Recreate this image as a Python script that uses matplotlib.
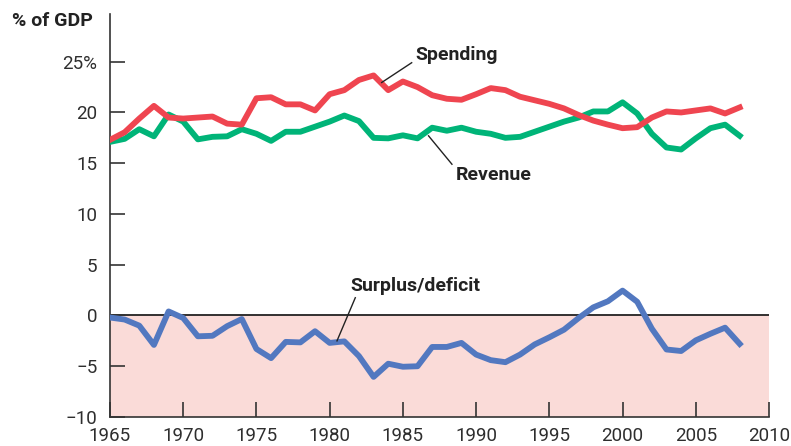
import numpy as np
import matplotlib.pyplot as plt

# Data (% of GDP)
years = list(range(1965, 2009))
spending = [17.3, 18.05, 19.4, 20.65, 19.5, 19.4, 19.5, 19.6, 18.9, 18.8,
            21.4, 21.5, 20.8, 20.8, 20.2, 21.8, 22.2, 23.2, 23.65, 22.2,
            23.05, 22.5, 21.7, 21.35, 21.25, 21.8, 22.4, 22.2, 21.55, 21.2,
            20.85, 20.4, 19.75, 19.2, 18.8, 18.45, 18.55, 19.5, 20.1, 20.0,
            20.2, 20.4, 19.9, 20.5]
revenue = [17.1, 17.4, 18.35, 17.65, 19.8, 19.1, 17.35, 17.6, 17.65, 18.35,
           17.9, 17.2, 18.1, 18.1, 18.6, 19.1, 19.7, 19.15, 17.5, 17.45,
           17.75, 17.45, 18.5, 18.2, 18.5, 18.1, 17.9, 17.5, 17.6, 18.1,
           18.6, 19.1, 19.5, 20.1, 20.1, 21.0, 19.9, 17.9, 16.55, 16.35,
           17.45, 18.45, 18.8, 17.7]
balance = [-0.2, -0.4, -1.0, -2.9, 0.4, -0.25, -2.05, -2.0, -1.05, -0.35,
           -3.3, -4.2, -2.6, -2.65, -1.55, -2.7, -2.55, -4.0, -6.05, -4.75,
           -5.05, -5.0, -3.1, -3.1, -2.7, -3.85, -4.4, -4.6, -3.85, -2.85,
           -2.15, -1.4, -0.25, 0.8, 1.4, 2.45, 1.35, -1.3, -3.35, -3.5,
           -2.45, -1.8, -1.2, -2.8]

yticks = [-10, -5, 0, 5, 10, 15, 20, 25]
ytick_labels = ["\u221210", "\u22125", "0", "5", "10", "15", "20", "25%"]
xticks = list(range(1965, 2011, 5))

plt.rcParams['font.family'] = ['Roboto', 'DejaVu Sans']

fig = plt.figure(figsize=(7.91, 4.46), dpi=100)
ax = fig.add_axes([110 / 791, 29 / 446, 659 / 791, 403 / 446])

ax.axhspan(-10, 0, color="#fadbd8", zorder=0)
ax.axhline(0, color="#222222", lw=1.3, zorder=1)

ax.plot(years, revenue, color="#00b478", lw=4.2, zorder=3)
ax.plot(years, spending, color="#ef4550", lw=4.2, zorder=3)
ax.plot(years, balance, color="#5278c0", lw=4.2, zorder=3)

ax.set_xlim(1965, 2010)
ax.set_ylim(-10, 29.7)
for s in ["top", "right"]:
    ax.spines[s].set_visible(False)
for s in ["left", "bottom"]:
    ax.spines[s].set_color("#333333")
    ax.spines[s].set_linewidth(1.2)

ax.set_yticks(yticks)
ax.set_yticklabels(ytick_labels)
ax.set_xticks(xticks)
ax.tick_params(direction="in", length=11, width=1.2, color="#333333",
               labelsize=13.5, labelcolor="#2e2e2e")
ax.tick_params(axis="y", pad=9)
ax.tick_params(axis="x", pad=7)

fig.text(12 / 791, 1 - 21 / 446, "% of GDP", ha="left", va="center",
         fontsize=14, fontweight="bold", color="#222222")

# labels with leader lines
lab = dict(fontsize=14, fontweight="bold", color="#222222", ha="left", va="center")
ax.text(1985.85, 25.7, "Spending", **lab)
ax.plot([1983.55, 1985.6], [22.95, 24.9], color="#222222", lw=1.0, zorder=4)
ax.text(1988.6, 13.8, "Revenue", **lab)
ax.plot([1986.75, 1988.35], [17.7, 14.9], color="#222222", lw=1.0, zorder=4)
ax.text(1981.4, 2.9, "Surplus/deficit", **lab)
ax.plot([1980.5, 1981.75], [-2.5, 1.75], color="#222222", lw=1.0, zorder=4)

fig.savefig("out.png", dpi=100)
